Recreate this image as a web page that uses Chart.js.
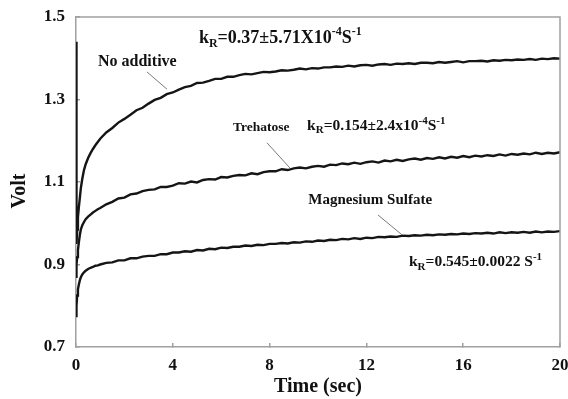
<!DOCTYPE html>
<html>
<head>
  <script src="https://cdn.jsdelivr.net/npm/chart.js"></script>
  <style>
    body { margin:0; background:#fff; }
    #wrap { width:568px; height:399px; }
  </style>
</head>
<body>
<div id="wrap"><canvas id="myChart" width="568" height="399"></canvas></div>
<script>
  // time axis (sec)
  var timeSec = [
    0, 0.02, 0.05, 0.08, 0.12, 0.16, 0.2, 0.26, 0.33, 0.4, 0.5, 0.6, 0.7, 0.8, 0.9, 1,
    1.25, 1.5, 1.75, 2, 2.25, 2.5, 2.75, 3, 3.25, 3.5, 3.75, 4, 4.25, 4.5, 4.75, 5,
    5.25, 5.5, 5.75, 6, 6.25, 6.5, 6.75, 7, 7.25, 7.5, 7.75, 8, 8.25, 8.5, 8.75, 9,
    9.25, 9.5, 9.75, 10, 10.25, 10.5, 10.75, 11, 11.25, 11.5, 11.75, 12, 12.25, 12.5, 12.75, 13,
    13.25, 13.5, 13.75, 14, 14.25, 14.5, 14.75, 15, 15.25, 15.5, 15.75, 16, 16.25, 16.5, 16.75, 17,
    17.25, 17.5, 17.75, 18, 18.25, 18.5, 18.75, 19, 19.25, 19.5, 19.75, 20
  ];

  var noAdditive = [
    1.44, 0.95, 0.985, 1.015, 1.040, 1.062, 1.085, 1.108, 1.129, 1.143, 1.158, 1.170, 1.180, 1.189, 1.197, 1.205,
    1.220, 1.231, 1.244, 1.253,  1.263, 1.274, 1.280, 1.290,  1.299, 1.304, 1.313, 1.317,  1.324, 1.330, 1.333, 1.340,
    1.341, 1.345, 1.350, 1.350,  1.355, 1.355, 1.359, 1.362,  1.361, 1.364, 1.367, 1.366,  1.368, 1.371, 1.370, 1.372,
    1.375, 1.373, 1.376, 1.375,  1.378, 1.378, 1.380, 1.379,  1.382, 1.380, 1.383, 1.384,  1.382, 1.385, 1.386, 1.384,
    1.387, 1.386, 1.388, 1.386,  1.389, 1.389, 1.388, 1.391,  1.389, 1.391, 1.393, 1.390,  1.393, 1.393, 1.394, 1.392,
    1.395, 1.394, 1.396, 1.395,  1.397, 1.396, 1.398, 1.396,  1.399, 1.398, 1.400, 1.399
  ];

  var trehatose = [
    0.87, 0.90, 0.918, 0.935, 0.955, 0.972, 0.985, 0.995, 1.003, 1.010, 1.016, 1.021, 1.026, 1.030, 1.034, 1.037,
    1.046, 1.052, 1.060, 1.062,  1.070, 1.072, 1.078, 1.081,  1.082, 1.088, 1.088, 1.091,  1.097, 1.096, 1.101, 1.099,
    1.105, 1.107, 1.106, 1.112,  1.111, 1.115, 1.117, 1.116,  1.121, 1.119, 1.124, 1.126,  1.126, 1.131, 1.129, 1.133,
    1.135, 1.133, 1.137, 1.139,  1.137, 1.142, 1.141, 1.145,  1.143, 1.147, 1.144, 1.148,  1.150, 1.147, 1.152, 1.150,
    1.154, 1.151, 1.155, 1.157,  1.154, 1.158, 1.156, 1.160,  1.157, 1.161, 1.159, 1.163,  1.160, 1.164, 1.162, 1.165,
    1.163, 1.167, 1.164, 1.168,  1.166, 1.169, 1.167, 1.171,  1.168, 1.171, 1.169, 1.172
  ];

  var magnesiumSulfate = [
    0.775, 0.80, 0.825, 0.840, 0.852, 0.862, 0.869, 0.876, 0.881, 0.885, 0.889, 0.892, 0.894, 0.897, 0.898, 0.900,
    0.904, 0.905, 0.910, 0.910,  0.915, 0.915, 0.919, 0.921,  0.921, 0.925, 0.925, 0.929,  0.929, 0.932, 0.931, 0.935,
    0.934, 0.938, 0.937, 0.941,  0.940, 0.943, 0.943, 0.946,  0.945, 0.948, 0.947, 0.950,  0.950, 0.952, 0.951, 0.954,
    0.953, 0.956, 0.955, 0.958,  0.957, 0.960, 0.959, 0.962,  0.961, 0.964, 0.962, 0.965,  0.964, 0.967, 0.966, 0.968,
    0.967, 0.970, 0.969, 0.971,  0.970, 0.972, 0.971, 0.973,  0.972, 0.974, 0.973, 0.975,  0.974, 0.976, 0.975, 0.977,
    0.975, 0.978, 0.976, 0.978,  0.977, 0.979, 0.977, 0.980,  0.978, 0.980, 0.979, 0.981
  ];

  var xTicks = [0, 4, 8, 12, 16, 20];
  var yTicks = [0.7, 0.9, 1.1, 1.3, 1.5];

  // labels placed in data units (time, volt); parts: [text, "sub"|"sup"|undefined]
  var notes = [
    {t:0.91, v:1.391, size:16, parts:[["No additive"]]},
    {t:5.08, v:1.449, size:18, parts:[["k"],["R","sub"],["=0.37\u00B15.71X10"],["-4","sup"],["S"],["-1","sup"]]},
    {t:6.49, v:1.231, size:13.5, parts:[["Trehatose"]]},
    {t:9.55, v:1.236, size:15.5, parts:[["k"],["R","sub"],["=0.154\u00B12.4x10"],["-4","sup"],["S"],["-1","sup"]]},
    {t:9.60, v:1.056, size:15, parts:[["Magnesium Sulfate"]]},
    {t:13.76, v:0.906, size:15.5, parts:[["k"],["R","sub"],["=0.545\u00B10.0022 S"],["-1","sup"]]},
  ];
  var leaders = [
    [2.93, 1.367, 3.76, 1.325],
    [7.89, 1.195, 8.84, 1.134],
    [12.48, 1.020, 13.47, 0.972],
  ];

  var serif = "'Liberation Serif', 'DejaVu Serif', serif";

  function toPoints(ys)
  {
    var ret = [];
    for (var i=0;i<timeSec.length;i++) ret.push({x:timeSec[i], y:ys[i]});
    return ret;
  }

  function drawRich(ctx, x, y, size, parts)
  {
    ctx.textBaseline = "middle";
    ctx.textAlign = "left";
    for (var i=0;i<parts.length;i++) {
      var txt = parts[i][0], kind = parts[i][1];
      var fs = kind ? Math.round(size*0.68) : size;
      var dy = kind == "sub" ? size*0.3 : (kind == "sup" ? -size*0.33 : 0);
      ctx.font = "bold " + fs + "px " + serif;
      ctx.fillText(txt, x, y + dy);
      x += ctx.measureText(txt).width;
    }
  }

  var extras = {
    id: "extras",
    afterDraw: function(chart) {
      var ctx = chart.ctx, a = chart.chartArea;
      var xs = chart.scales.x, ys = chart.scales.y;
      ctx.save();
      // frame
      ctx.strokeStyle = "#a0a0a0";
      ctx.lineWidth = 1.5;
      ctx.beginPath();
      ctx.moveTo(a.left, a.top); ctx.lineTo(a.right, a.top); ctx.lineTo(a.right, a.bottom);
      ctx.stroke();
      // leader lines
      ctx.strokeStyle = "#7a7a7a";
      ctx.lineWidth = 1;
      leaders.forEach(function(l) {
        ctx.beginPath();
        ctx.moveTo(xs.getPixelForValue(l[0]), ys.getPixelForValue(l[1]));
        ctx.lineTo(xs.getPixelForValue(l[2]), ys.getPixelForValue(l[3]));
        ctx.stroke();
      });
      ctx.fillStyle = "#111";
      notes.forEach(function(n) {
        drawRich(ctx, xs.getPixelForValue(n.t), ys.getPixelForValue(n.v), n.size, n.parts);
      });
      // y title
      ctx.translate(20, 191);
      ctx.rotate(-Math.PI/2);
      ctx.font = "bold 20px " + serif;
      ctx.textAlign = "center";
      ctx.textBaseline = "middle";
      ctx.fillText("Volt", 0, 0);
      ctx.restore();
    }
  };

  function lineSet(label, ys)
  {
    return {label:label, data:toPoints(ys), borderColor:"#151515", borderWidth:2.4,
            pointRadius:0, tension:0, fill:false};
  }

  const ctx = document.getElementById('myChart');
  new Chart(ctx, {
    type: 'line',
    data: {
      datasets: [
        lineSet("No additive", noAdditive),
        lineSet("Trehatose", trehatose),
        lineSet("Magnesium Sulfate", magnesiumSulfate),
      ]
    },
    plugins: [extras],
    options: {
      responsive: false,
      animation: false,
      layout: { padding: {left:0, right:8, top:17, bottom:0} },
      plugins: { legend: {display:false}, tooltip: {enabled:false} },
      scales: {
        x: {
          type: 'linear', min: 0, max: 20,
          afterBuildTicks: function(s) { s.ticks = xTicks.map(function(v){ return {value:v}; }); },
          afterFit: function(s) { s.height = 52; s.paddingLeft = 0; s.paddingRight = 0; },
          ticks: { color:"#111", padding:12, maxRotation:0, font:{family:serif, size:17, weight:"bold"} },
          grid: { drawOnChartArea:false, drawTicks:true, tickLength:-4, color:"#a0a0a0", lineWidth:1.5 },
          border: { color:"#a0a0a0", width:1.5 },
          title: { display:true, text:"Time (sec)", color:"#111", padding:{top:0, bottom:0},
                   font:{family:serif, size:20, weight:"bold"} }
        },
        y: {
          min: 0.7, max: 1.5,
          afterBuildTicks: function(s) { s.ticks = yTicks.map(function(v){ return {value:v}; }); },
          afterFit: function(s) { s.width = 76; s.paddingTop = 0; s.paddingBottom = 0; },
          ticks: { color:"#111", padding:15, callback:function(v){ return v.toFixed(1); },
                   font:{family:serif, size:17, weight:"bold"} },
          grid: { drawOnChartArea:false, drawTicks:true, tickLength:-4, color:"#a0a0a0", lineWidth:1.5 },
          border: { color:"#a0a0a0", width:1.5 }
        }
      }
    }
  });
</script>
</body>
</html>
